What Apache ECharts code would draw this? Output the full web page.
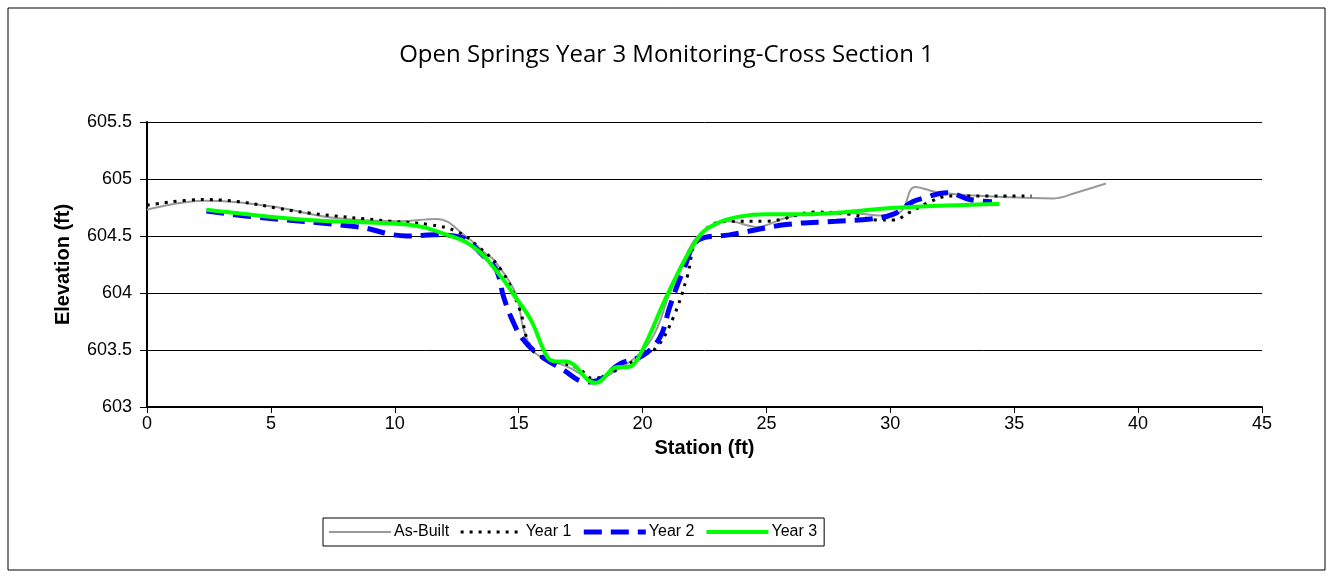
<!DOCTYPE html>
<html>
<head>
<meta charset="utf-8">
<script src="https://cdn.jsdelivr.net/npm/echarts@6/dist/echarts.min.js"></script>
<style>
  html, body { margin: 0; padding: 0; background: #fff; }
  #chart { width: 1333px; height: 578px; }
</style>
</head>
<body>
<div id="chart"></div>
<script>
// Cross section survey: station (ft) vs elevation (ft)
const asBuiltStation = [0, 2.3, 5, 7.5, 10.2, 11.7, 12.85, 13.7, 14.0, 14.87, 15.2, 15.55, 15.9, 17.0, 18.1, 19.0, 19.9, 20.5, 21.1, 21.7, 22.25, 23.5, 24.6, 25.8, 27.0, 28.5, 29.5, 30.4, 31.0, 32.0, 34.8, 36.6, 37.5, 38.7];
const asBuiltElev    = [604.73, 604.81, 604.76, 604.66, 604.63, 604.65, 604.5, 604.34, 604.29, 604.0, 603.68, 603.5, 603.44, 603.35, 603.24, 603.33, 603.47, 603.65, 604.0, 604.3, 604.5, 604.63, 604.58, 604.66, 604.7, 604.7, 604.68, 604.71, 604.93, 604.88, 604.84, 604.83, 604.88, 604.96];

const year1Station = [0, 2.3, 6.6, 9.8, 11.4, 12.5, 13.3, 14.3, 15.05, 15.35, 15.75, 17.4, 18.0, 19.0, 20.0, 20.6, 21.25, 21.8, 22.25, 23.4, 25.0, 27.0, 28.4, 29.5, 30.1, 30.8, 31.5, 32.4, 35.7];
const year1Elev    = [604.77, 604.82, 604.7, 604.63, 604.6, 604.54, 604.42, 604.2, 603.85, 603.59, 603.46, 603.34, 603.25, 603.33, 603.45, 603.53, 603.79, 604.14, 604.49, 604.63, 604.63, 604.71, 604.69, 604.64, 604.64, 604.71, 604.79, 604.85, 604.85];

const year2Station = [2.4, 4.2, 8.5, 10.5, 11.6, 12.65, 13.6, 14.1, 14.4, 14.75, 15.15, 15.75, 16.7, 17.75, 18.15, 19.1, 20.0, 20.7, 21.1, 21.65, 22.3, 23.5, 25.8, 27.8, 29.2, 30.1, 30.9, 31.3, 32.3, 33.2, 34.1];
const year2Elev    = [604.72, 604.67, 604.58, 604.5, 604.51, 604.49, 604.32, 604.2, 603.96, 603.76, 603.6, 603.47, 603.34, 603.22, 603.23, 603.38, 603.45, 603.61, 603.88, 604.2, 604.47, 604.51, 604.6, 604.63, 604.65, 604.69, 604.8, 604.83, 604.88, 604.82, 604.8];

const year3Station = [2.4, 6.5, 10.5, 11.85, 13.2, 14.3, 14.75, 15.5, 16.15, 16.5, 16.9, 18.1, 19.0, 19.4, 19.9, 21.1, 22.3, 23.1, 23.9, 25.0, 26.3, 30.4, 34.4];
const year3Elev    = [604.73, 604.64, 604.6, 604.53, 604.4, 604.14, 604.0, 603.76, 603.44, 603.4, 603.4, 603.21, 603.35, 603.35, 603.46, 604.03, 604.5, 604.62, 604.67, 604.69, 604.69, 604.75, 604.78];

const xTicks = { min: 0, max: 45, step: 5 };
const yTicks = { min: 603, max: 605.5, step: 0.5 };

const pairs = (xs, ys) => xs.map((x, i) => [x, ys[i]]);

const chart = echarts.init(document.getElementById('chart'), null, { renderer: 'canvas' });
const axisFont = 'Liberation Sans, Arial, sans-serif';

chart.setOption({
  backgroundColor: '#ffffff',
  animation: false,
  title: {
    text: 'Open Springs Year 3 Monitoring-Cross Section 1',
    left: 'center',
    top: 38,
    textStyle: { fontFamily: 'Open Sans, Lato, sans-serif', fontWeight: 'normal', fontSize: 24, color: '#000' }
  },
  graphic: [{
    type: 'rect',
    shape: { x: 8, y: 8, width: 1317, height: 562 },
    style: { fill: 'none', stroke: '#000', lineWidth: 1 },
    silent: true
  }],
  legend: {
    left: 323,
    top: 518,
    orient: 'horizontal',
    itemWidth: 62,
    itemHeight: 14,
    itemGap: 10,
    padding: [6, 7, 6, 5],
    borderColor: '#000',
    borderWidth: 1,
    itemStyle: { opacity: 0 },
    lineStyle: { width: 'inherit' },
    textStyle: { fontFamily: axisFont, fontSize: 16, color: '#000', padding: [0, 0, 0, -2] },
    data: ['As-Built', 'Year 1', 'Year 2', 'Year 3']
  },
  grid: { left: 147, right: 71, top: 122, bottom: 171, containLabel: false },
  xAxis: {
    type: 'value',
    min: xTicks.min, max: xTicks.max, interval: xTicks.step,
    name: 'Station (ft)',
    nameLocation: 'middle',
    nameGap: 31,
    nameTextStyle: { fontFamily: axisFont, fontSize: 20, fontWeight: 'bold', color: '#000' },
    axisLine: { show: true, onZero: false, lineStyle: { color: '#000', width: 2 } },
    axisTick: { show: true, inside: false, length: 6, lineStyle: { color: '#000', width: 1 } },
    axisLabel: { fontFamily: axisFont, fontSize: 18, color: '#000', margin: 8 },
    splitLine: { show: false }
  },
  yAxis: {
    type: 'value',
    min: yTicks.min, max: yTicks.max, interval: yTicks.step,
    name: 'Elevation (ft)',
    nameLocation: 'middle',
    nameRotate: 90,
    nameGap: 74,
    nameTextStyle: { fontFamily: axisFont, fontSize: 20, fontWeight: 'bold', color: '#000' },
    axisLine: { show: true, onZero: false, lineStyle: { color: '#000', width: 2 } },
    axisTick: { show: true, inside: false, length: 7, lineStyle: { color: '#000', width: 1 } },
    axisLabel: { fontFamily: axisFont, fontSize: 18, color: '#000', margin: 15 },
    splitLine: { show: true, lineStyle: { color: '#000', width: 1 } }
  },
  series: [
    {
      name: 'As-Built', type: 'line', smooth: 0.4, symbol: 'none',
      data: pairs(asBuiltStation, asBuiltElev),
      lineStyle: { color: '#999999', width: 2 },
      itemStyle: { color: '#999999' }
    },
    {
      name: 'Year 1', type: 'line', smooth: 0.4, symbol: 'none',
      data: pairs(year1Station, year1Elev),
      lineStyle: { color: '#000000', width: 3, type: [3, 6] },
      itemStyle: { color: '#000000' }
    },
    {
      name: 'Year 2', type: 'line', smooth: 0.4, symbol: 'none',
      data: pairs(year2Station, year2Elev),
      lineStyle: { color: '#0000ff', width: 5, type: [18, 9] },
      itemStyle: { color: '#0000ff' }
    },
    {
      name: 'Year 3', type: 'line', smooth: 0.4, symbol: 'none',
      data: pairs(year3Station, year3Elev),
      lineStyle: { color: '#00ff00', width: 4 },
      itemStyle: { color: '#00ff00' }
    }
  ]
});
</script>
</body>
</html>
